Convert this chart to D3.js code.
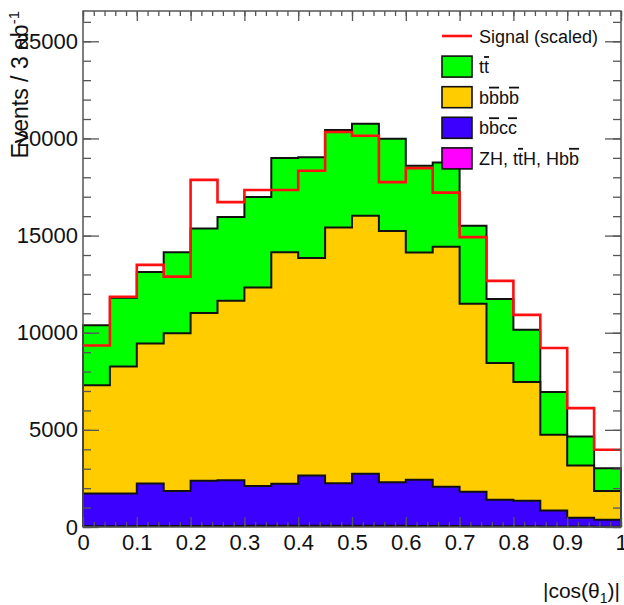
<!DOCTYPE html>
<html>
<head>
<meta charset="utf-8">
<script src="https://cdn.jsdelivr.net/npm/d3@7"></script>
<style>
  body { margin: 0; background: #fff; }
  text { font-family: "Liberation Sans", Arial, sans-serif; fill: #111; }
</style>
</head>
<body>
<div id="chart"></div>
<script>
// bin lower edges, |cos(theta_1)|, width 0.05
var binLow = [0, 0.05, 0.1, 0.15, 0.2, 0.25, 0.3, 0.35, 0.4, 0.45,
              0.5, 0.55, 0.6, 0.65, 0.7, 0.75, 0.8, 0.85, 0.9, 0.95];
var binWidth = 0.05;

// stacked backgrounds, bottom to top (events / bin)
var zhValues   = [40, 45, 50, 48, 55, 52, 60, 58, 62, 60, 65, 58, 55, 50, 45, 40, 35, 28, 20, 15];
var bbccValues = [1680, 1680, 2190, 1800, 2320, 2350, 2050, 2170, 2590, 2190,
                  2680, 2240, 2380, 2020, 1770, 1360, 1310, 820, 460, 355];
var bbbbValues = [5580, 6540, 7200, 8130, 8640, 9240, 10220, 11910, 11190, 13160,
                  13270, 12940, 11700, 12360, 9680, 7040, 6120, 3900, 2680, 1480];
var ttValues   = [3090, 3540, 3680, 4170, 4350, 4310, 4650, 4860, 5190, 5030,
                  4740, 4750, 4460, 4330, 4010, 3300, 2690, 2200, 1500, 1180];
// signal (scaled), drawn as a line
var signalValues = [9340, 11850, 13490, 12890, 17870, 16720, 17350, 17350, 18340, 20330,
                    20140, 17750, 18470, 17210, 14920, 12670, 10920, 9210, 6120, 3980];

var yTicks = [0, 5000, 10000, 15000, 20000, 25000];
var xTicks = [0, 0.1, 0.2, 0.3, 0.4, 0.5, 0.6, 0.7, 0.8, 0.9, 1];

var W = 624, H = 605;
var padL = 83, padR = 621, padT = 11, padB = 527;

var svg = d3.select("#chart").append("svg")
    .attr("width", W).attr("height", H);

var x = d3.scaleLinear().domain([0, 1]).range([padL, padR]);
var y = d3.scaleLinear().domain([0, 26560]).range([padB, padT]);

/* cumulative stacks, ROOT THStack style */
var stacks = [];
var running = zhValues.map(function() { return 0; });
[["zh", zhValues, "#ff00ff"], ["bbcc", bbccValues, "#3c00ff"],
 ["bbbb", bbbbValues, "#ffcc00"], ["tt", ttValues, "#00ff00"]].forEach(function(s) {
    running = running.map(function(v, i) { return v + s[1][i]; });
    stacks.push({ name: s[0], color: s[2], tops: running.slice() });
});

/* step points for a histogram */
function steps(vals) {
    var pts = [];
    vals.forEach(function(v, i) {
        pts.push([binLow[i], v]);
        pts.push([binLow[i] + binWidth, v]);
    });
    return pts;
}

var area = d3.area()
    .x(function(d) { return x(d[0]); })
    .y0(y(0))
    .y1(function(d) { return y(d[1]); });
var line = d3.line()
    .x(function(d) { return x(d[0]); })
    .y(function(d) { return y(d[1]); });

// draw highest cumulative first
stacks.slice().reverse().forEach(function(s) {
    var pts = steps(s.tops);
    svg.append("path")
        .attr("d", area(pts))
        .attr("fill", s.color);
    var outline = [[0, 0]].concat(pts).concat([[1, 0]]);
    svg.append("path")
        .attr("d", line(outline))
        .attr("fill", "none")
        .attr("stroke", "#111")
        .attr("stroke-width", 2);
});

svg.append("path")
    .attr("d", line(steps(signalValues)))
    .attr("fill", "none")
    .attr("stroke", "#ff1010")
    .attr("stroke-width", 2.6);

/* axes, ticks pointing inward */
var gy = svg.append("g").attr("transform", "translate(" + padL + ",0)")
    .call(d3.axisLeft(y).tickValues(yTicks).tickSize(-16).tickPadding(5)
        .tickFormat(d3.format("d")));
var gyMinor = svg.append("g").attr("transform", "translate(" + padL + ",0)")
    .call(d3.axisLeft(y).tickValues(d3.range(0, 26560, 1000)).tickSize(-8).tickFormat(""));
var gyR = svg.append("g").attr("transform", "translate(" + padR + ",0)")
    .call(d3.axisRight(y).tickValues(yTicks).tickSize(-16).tickFormat(""));
var gyRMinor = svg.append("g").attr("transform", "translate(" + padR + ",0)")
    .call(d3.axisRight(y).tickValues(d3.range(0, 26560, 1000)).tickSize(-8).tickFormat(""));

var gx = svg.append("g").attr("transform", "translate(0," + padB + ")")
    .call(d3.axisBottom(x).tickValues(xTicks).tickSize(-10).tickPadding(7)
        .tickFormat(function(d) { return d3.format("")(+d.toFixed(1)); }));
var gxMinor = svg.append("g").attr("transform", "translate(0," + padB + ")")
    .call(d3.axisBottom(x).tickValues(d3.range(0, 1.001, 0.02)).tickSize(-5).tickFormat(""));
var gxT = svg.append("g").attr("transform", "translate(0," + padT + ")")
    .call(d3.axisTop(x).tickValues(xTicks).tickSize(-10).tickFormat(""));
var gxTMinor = svg.append("g").attr("transform", "translate(0," + padT + ")")
    .call(d3.axisTop(x).tickValues(d3.range(0, 1.001, 0.02)).tickSize(-5).tickFormat(""));

[gy, gyMinor, gyR, gyRMinor, gx, gxMinor, gxT, gxTMinor].forEach(function(g) {
    g.select(".domain").remove();
    g.selectAll(".tick line").attr("stroke", "#555").attr("stroke-width", 1.3);
    g.selectAll(".tick text").attr("font-size", 22)
        .attr("font-family", "Liberation Sans, Arial, sans-serif").attr("fill", "#111");
});

svg.append("rect")
    .attr("x", padL).attr("y", padT)
    .attr("width", padR - padL).attr("height", padB - padT)
    .attr("fill", "none").attr("stroke", "#555").attr("stroke-width", 1.5);

/* axis titles */
var ylab = svg.append("text")
    .attr("transform", "translate(28," + padT + ") rotate(-90)")
    .attr("text-anchor", "end")
    .attr("font-size", 23);
ylab.append("tspan").text("Events / 3 ab");
ylab.append("tspan").attr("font-size", 15).attr("dy", -9).text("-1");

var xlab = svg.append("text")
    .attr("x", 620).attr("y", 598)
    .attr("text-anchor", "end")
    .attr("font-size", 21);
xlab.append("tspan").text("|cos(\u03b8");
xlab.append("tspan").attr("font-size", 14).attr("dy", 5).text("1");
xlab.append("tspan").attr("dy", -5).text(")|");

/* legend */
var legendItems = [
    { type: "line", color: "#ff1010", parts: [["Signal (scaled)", false]] },
    { type: "box", color: "#00ff00", parts: [["t", false], ["t", true]] },
    { type: "box", color: "#ffcc00", parts: [["b", false], ["b", true], ["b", false], ["b", true]] },
    { type: "box", color: "#3c00ff", parts: [["b", false], ["b", true], ["c", false], ["c", true]] },
    { type: "box", color: "#ff00ff", parts: [["ZH, t", false], ["t", true], ["H, Hb", false], ["b", true]] }
];
var lg = svg.append("g");
legendItems.forEach(function(it, i) {
    var cy = 36 + i * 30.6;
    if (it.type === "line") {
        lg.append("line")
            .attr("x1", 442).attr("x2", 472).attr("y1", cy).attr("y2", cy)
            .attr("stroke", it.color).attr("stroke-width", 2.6);
    } else {
        lg.append("rect")
            .attr("x", 442).attr("y", cy - 10.5).attr("width", 30).attr("height", 21)
            .attr("fill", it.color).attr("stroke", "#111").attr("stroke-width", 1.6);
    }
    var t = lg.append("text").attr("x", 479).attr("y", cy + 6.5).attr("font-size", 18);
    it.parts.forEach(function(p) {
        var ts = t.append("tspan").text(p[0]);
        if (p[1]) ts.attr("text-decoration", "overline").style("text-decoration", "overline");
    });
});
</script>
</body>
</html>
